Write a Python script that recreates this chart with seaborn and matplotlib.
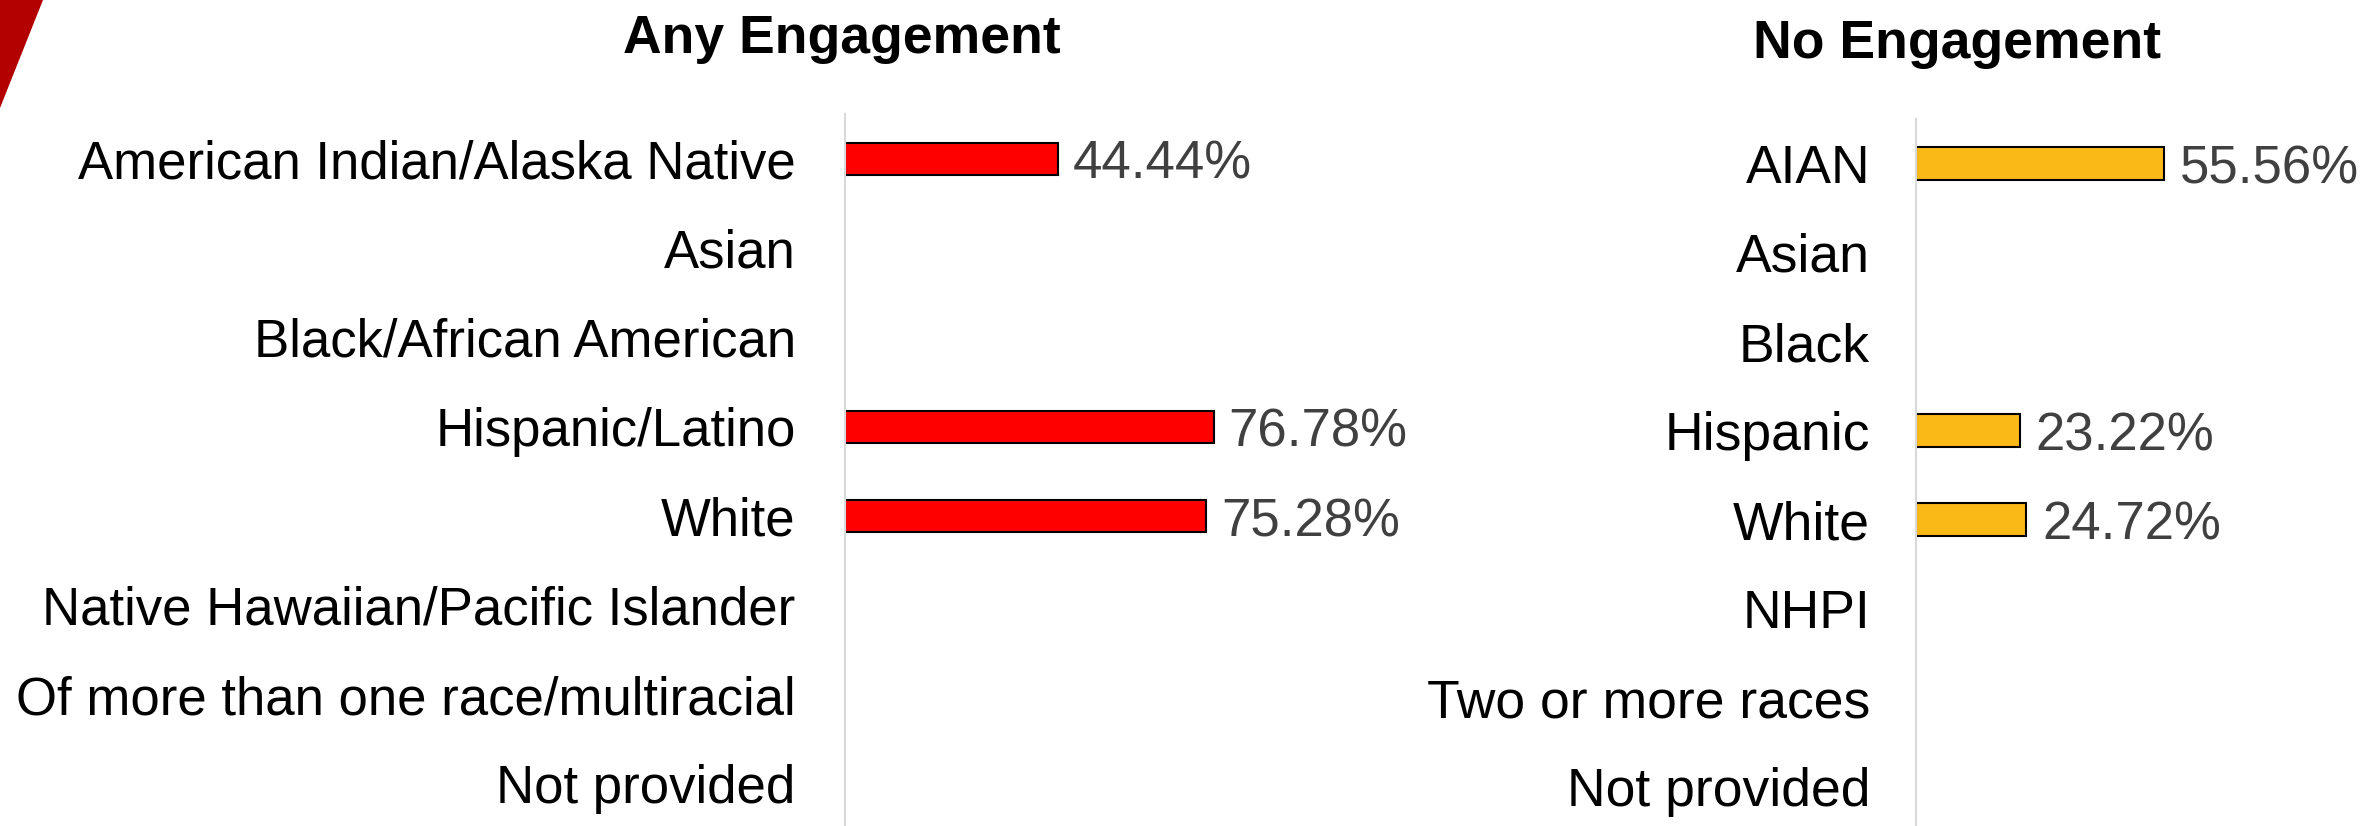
import matplotlib
matplotlib.use("Agg")
import matplotlib.pyplot as plt
import seaborn as sns
import numpy as np
import pandas as pd
from matplotlib.patches import Polygon

left_title = "Any Engagement"
right_title = "No Engagement"
left_categories = ["American Indian/Alaska Native", "Asian", "Black/African American",
                   "Hispanic/Latino", "White", "Native Hawaiian/Pacific Islander",
                   "Of more than one race/multiracial", "Not provided"]
right_categories = ["AIAN", "Asian", "Black", "Hispanic", "White", "NHPI",
                    "Two or more races", "Not provided"]
any_engagement = [44.44, np.nan, np.nan, 76.78, 75.28, np.nan, np.nan, np.nan]
no_engagement = [55.56, np.nan, np.nan, 23.22, 24.72, np.nan, np.nan, np.nan]

sns.set_theme(style="white")
plt.rcParams['font.family'] = ['Liberation Sans', 'DejaVu Sans']

W, H = 2364, 826
fig = plt.figure(figsize=(W / 100, H / 100), dpi=100)

# decorative corner triangle
fig.patches.append(Polygon([[0, 1], [43 / W, 1], [0, 1 - 108 / H]], closed=True,
                           transform=fig.transFigure, facecolor="#B30000",
                           edgecolor="none"))

def panel(rect, cats, vals, color, title, title_xy, tickpad, ticksize, labelpad):
    ax = fig.add_axes(rect)
    df = pd.DataFrame({"cat": cats, "val": vals})
    sns.barplot(data=df, x="val", y="cat", order=cats, color=color,
                edgecolor="black", linewidth=1.5, width=0.36, errorbar=None,
                saturation=1, ax=ax)
    ax.set_xlim(0, 100)
    ax.set_ylim(len(cats) - 0.5, -0.5)
    for c in ax.containers:
        anns = ax.bar_label(c, fmt="{:.2f}%", padding=labelpad, fontsize=38,
                            color="#404040")
        for a in anns:
            a.xyann = (labelpad, -4.5)
    ax.set_xlabel("")
    ax.set_ylabel("")
    ax.set_xticks([])
    ax.tick_params(axis="y", length=0, pad=tickpad, labelsize=ticksize,
                   labelcolor="black")
    for s in ["top", "right", "bottom"]:
        ax.spines[s].set_visible(False)
    ax.spines["left"].set_color("#D9D9D9")
    ax.spines["left"].set_linewidth(1.5)
    ax.patch.set_alpha(0)
    fig.text(title_xy[0] / W, 1 - title_xy[1] / H, title, ha="center", va="baseline",
             fontsize=38.5, fontweight="bold", color="black")
    return ax

panel([845 / W, 1 - 828.5 / H, 480 / W, 714.5 / H], left_categories, any_engagement,
      "#FF0000", left_title, (842, 53), 35.5, 38, 10.5)
panel([1916 / W, 1 - 831 / H, 446 / W, 712 / H], right_categories, no_engagement,
      "#FBB917", right_title, (1957, 58), 33, 38.5, 11.5)

fig.savefig("out.png", dpi=100)
